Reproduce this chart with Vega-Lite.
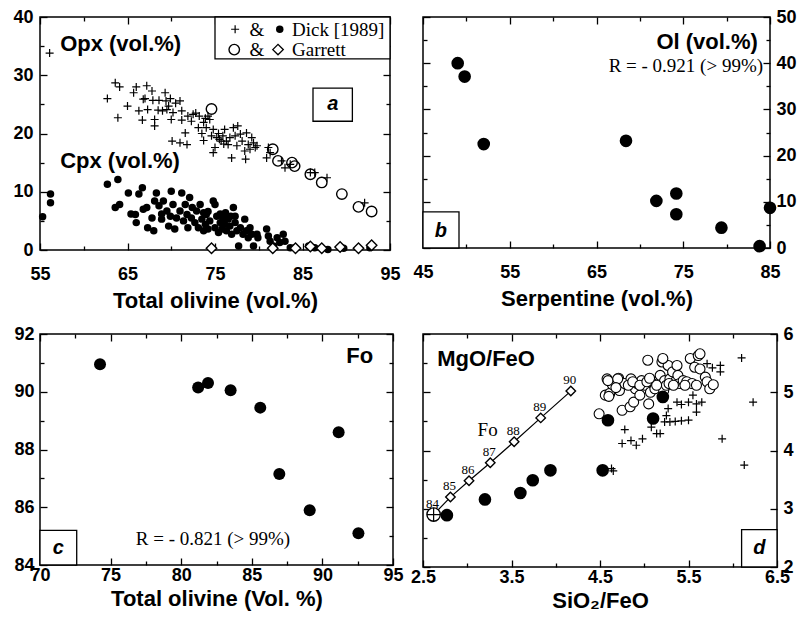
{
  "$schema": "https://vega.github.io/schema/vega-lite/v6.json",
  "background": "white",
  "padding": {"left": 12, "top": 7, "right": 0, "bottom": 0},
  "bounds": "flush",
  "columns": 2,
  "spacing": {"row": 84, "column": 30},
  "datasets": {
    "opxDick": [
      {"olivine": 56.1, "opx": 33.8}, {"olivine": 62.7, "opx": 26.0}, {"olivine": 63.6, "opx": 28.7}, {"olivine": 64.1, "opx": 28.0},
      {"olivine": 63.9, "opx": 22.7}, {"olivine": 65.0, "opx": 24.7}, {"olivine": 65.7, "opx": 27.0}, {"olivine": 66.0, "opx": 28.0},
      {"olivine": 66.3, "opx": 23.9}, {"olivine": 66.7, "opx": 22.3}, {"olivine": 66.8, "opx": 25.9}, {"olivine": 67.2, "opx": 28.2},
      {"olivine": 67.3, "opx": 24.1}, {"olivine": 67.8, "opx": 27.3}, {"olivine": 67.9, "opx": 25.7}, {"olivine": 68.1, "opx": 22.4},
      {"olivine": 68.1, "opx": 21.3}, {"olivine": 68.6, "opx": 25.7}, {"olivine": 69.0, "opx": 23.9}, {"olivine": 69.3, "opx": 27.0},
      {"olivine": 69.4, "opx": 25.6}, {"olivine": 69.5, "opx": 24.1}, {"olivine": 69.7, "opx": 24.7}, {"olivine": 69.9, "opx": 26.0},
      {"olivine": 70.0, "opx": 22.4}, {"olivine": 70.2, "opx": 23.6}, {"olivine": 70.1, "opx": 18.7}, {"olivine": 71.0, "opx": 18.4},
      {"olivine": 71.0, "opx": 25.6}, {"olivine": 71.2, "opx": 23.9}, {"olivine": 71.2, "opx": 22.3}, {"olivine": 71.6, "opx": 20.1},
      {"olivine": 71.8, "opx": 18.1}, {"olivine": 71.9, "opx": 23.0}, {"olivine": 72.3, "opx": 22.1}, {"olivine": 72.5, "opx": 23.3},
      {"olivine": 73.1, "opx": 21.0}, {"olivine": 73.2, "opx": 23.0}, {"olivine": 73.5, "opx": 20.0}, {"olivine": 73.7, "opx": 21.9},
      {"olivine": 73.7, "opx": 18.8}, {"olivine": 74.0, "opx": 21.0}, {"olivine": 74.2, "opx": 23.0}, {"olivine": 74.4, "opx": 22.4},
      {"olivine": 74.6, "opx": 19.6}, {"olivine": 74.8, "opx": 20.7}, {"olivine": 74.8, "opx": 16.7}, {"olivine": 75.0, "opx": 17.6},
      {"olivine": 75.2, "opx": 19.3}, {"olivine": 75.4, "opx": 20.0}, {"olivine": 75.7, "opx": 18.7}, {"olivine": 75.9, "opx": 19.6},
      {"olivine": 76.1, "opx": 20.7}, {"olivine": 76.3, "opx": 18.7}, {"olivine": 76.5, "opx": 18.1}, {"olivine": 76.7, "opx": 19.3},
      {"olivine": 76.9, "opx": 15.8}, {"olivine": 77.1, "opx": 21.0}, {"olivine": 77.3, "opx": 19.6}, {"olivine": 77.5, "opx": 17.9},
      {"olivine": 77.6, "opx": 21.3}, {"olivine": 77.9, "opx": 19.9}, {"olivine": 78.1, "opx": 18.7}, {"olivine": 78.4, "opx": 17.0},
      {"olivine": 78.5, "opx": 15.6}, {"olivine": 78.6, "opx": 20.1}, {"olivine": 78.8, "opx": 18.1}, {"olivine": 79.0, "opx": 17.3},
      {"olivine": 79.2, "opx": 19.3}, {"olivine": 79.4, "opx": 18.4}, {"olivine": 79.6, "opx": 17.6}, {"olivine": 79.8, "opx": 17.9},
      {"olivine": 80.9, "opx": 15.8}, {"olivine": 81.1, "opx": 17.6}, {"olivine": 81.3, "opx": 16.7}, {"olivine": 82.6, "opx": 15.3},
      {"olivine": 83.0, "opx": 14.1}, {"olivine": 83.6, "opx": 14.7}, {"olivine": 85.9, "opx": 13.3}, {"olivine": 86.4, "opx": 13.3},
      {"olivine": 87.8, "opx": 12.4}, {"olivine": 92.1, "opx": 8.1}, {"olivine": 70.5, "opx": 25.2}, {"olivine": 72.8, "opx": 23.5},
      {"olivine": 73.9, "opx": 22.6}, {"olivine": 75.5, "opx": 19.0}, {"olivine": 76.0, "opx": 18.2}, {"olivine": 68.5, "opx": 24.0},
      {"olivine": 67.0, "opx": 26.0}
    ],
    "cpxDick": [
      {"olivine": 55.3, "cpx": 5.7}, {"olivine": 56.2, "cpx": 9.6}, {"olivine": 56.2, "cpx": 8.1}, {"olivine": 62.7, "cpx": 11.3},
      {"olivine": 63.9, "cpx": 12.1}, {"olivine": 63.6, "cpx": 7.3}, {"olivine": 64.1, "cpx": 7.8}, {"olivine": 65.1, "cpx": 9.8},
      {"olivine": 65.9, "cpx": 6.1}, {"olivine": 66.0, "cpx": 4.7}, {"olivine": 66.3, "cpx": 9.6}, {"olivine": 66.7, "cpx": 10.7},
      {"olivine": 66.8, "cpx": 7.0}, {"olivine": 67.3, "cpx": 3.8}, {"olivine": 67.2, "cpx": 7.3}, {"olivine": 68.0, "cpx": 3.3},
      {"olivine": 67.8, "cpx": 5.5}, {"olivine": 68.1, "cpx": 8.4}, {"olivine": 68.3, "cpx": 9.8}, {"olivine": 68.6, "cpx": 7.6},
      {"olivine": 68.9, "cpx": 5.3}, {"olivine": 69.1, "cpx": 8.4}, {"olivine": 69.5, "cpx": 6.7}, {"olivine": 69.7, "cpx": 4.1},
      {"olivine": 69.9, "cpx": 5.8}, {"olivine": 70.0, "cpx": 10.1}, {"olivine": 70.2, "cpx": 7.8}, {"olivine": 70.4, "cpx": 3.6},
      {"olivine": 70.6, "cpx": 5.5}, {"olivine": 71.0, "cpx": 6.7}, {"olivine": 71.2, "cpx": 9.8}, {"olivine": 71.4, "cpx": 5.0},
      {"olivine": 71.6, "cpx": 7.8}, {"olivine": 71.8, "cpx": 6.1}, {"olivine": 71.9, "cpx": 3.8}, {"olivine": 72.1, "cpx": 9.0},
      {"olivine": 72.3, "cpx": 5.5}, {"olivine": 72.7, "cpx": 4.7}, {"olivine": 72.9, "cpx": 6.7}, {"olivine": 73.1, "cpx": 3.8},
      {"olivine": 73.3, "cpx": 7.8}, {"olivine": 73.5, "cpx": 5.3}, {"olivine": 73.7, "cpx": 3.3}, {"olivine": 73.9, "cpx": 4.4},
      {"olivine": 74.0, "cpx": 6.1}, {"olivine": 74.2, "cpx": 3.6}, {"olivine": 74.4, "cpx": 5.0}, {"olivine": 74.8, "cpx": 8.4},
      {"olivine": 75.0, "cpx": 7.8}, {"olivine": 75.0, "cpx": 3.8}, {"olivine": 75.2, "cpx": 5.8}, {"olivine": 75.4, "cpx": 3.0},
      {"olivine": 75.6, "cpx": 4.7}, {"olivine": 75.8, "cpx": 3.6}, {"olivine": 75.9, "cpx": 5.5}, {"olivine": 76.1, "cpx": 4.4},
      {"olivine": 76.3, "cpx": 3.3}, {"olivine": 76.5, "cpx": 5.3}, {"olivine": 76.7, "cpx": 4.1}, {"olivine": 76.9, "cpx": 2.7},
      {"olivine": 77.1, "cpx": 7.3}, {"olivine": 77.3, "cpx": 4.7}, {"olivine": 77.5, "cpx": 3.3}, {"olivine": 77.7, "cpx": 0.7},
      {"olivine": 77.9, "cpx": 3.8}, {"olivine": 78.2, "cpx": 2.7}, {"olivine": 78.4, "cpx": 5.3}, {"olivine": 78.6, "cpx": 3.3},
      {"olivine": 78.8, "cpx": 2.1}, {"olivine": 79.0, "cpx": 3.8}, {"olivine": 79.2, "cpx": 2.7}, {"olivine": 79.4, "cpx": 0.7},
      {"olivine": 79.8, "cpx": 2.7}, {"olivine": 79.9, "cpx": 2.1}, {"olivine": 80.9, "cpx": 3.6}, {"olivine": 81.1, "cpx": 2.4},
      {"olivine": 81.3, "cpx": 1.5}, {"olivine": 81.7, "cpx": 0.7}, {"olivine": 82.1, "cpx": 2.1}, {"olivine": 82.4, "cpx": 1.3},
      {"olivine": 82.8, "cpx": 2.7}, {"olivine": 83.0, "cpx": 1.5}, {"olivine": 83.6, "cpx": 0.4}, {"olivine": 84.1, "cpx": 0.4},
      {"olivine": 85.7, "cpx": 0.7}, {"olivine": 86.4, "cpx": 0.4}, {"olivine": 87.9, "cpx": 0.1}, {"olivine": 89.7, "cpx": 0.3},
      {"olivine": 92.7, "cpx": 0.4}, {"olivine": 73.7, "cpx": 6.4}, {"olivine": 74.2, "cpx": 6.6}, {"olivine": 75.6, "cpx": 6.2},
      {"olivine": 76.8, "cpx": 5.8}, {"olivine": 77.3, "cpx": 5.8}, {"olivine": 76.2, "cpx": 6.4}, {"olivine": 65.4, "cpx": 6.2},
      {"olivine": 68.9, "cpx": 6.2}, {"olivine": 72.4, "cpx": 7.3}
    ],
    "opxGarrett": [
      {"olivine": 74.6, "opx": 24.2}, {"olivine": 81.6, "opx": 17.3}, {"olivine": 82.2, "opx": 15.3}, {"olivine": 83.8, "opx": 15.0},
      {"olivine": 84.1, "opx": 14.4}, {"olivine": 85.9, "opx": 13.0}, {"olivine": 87.2, "opx": 11.6}, {"olivine": 89.5, "opx": 9.6},
      {"olivine": 91.4, "opx": 7.4}, {"olivine": 92.9, "opx": 6.6}
    ],
    "cpxGarrett": [
      {"olivine": 74.6, "cpx": 0.3}, {"olivine": 81.6, "cpx": 0.3}, {"olivine": 84.2, "cpx": 0.3}, {"olivine": 85.9, "cpx": 0.6},
      {"olivine": 87.2, "cpx": 0.3}, {"olivine": 89.3, "cpx": 0.5}, {"olivine": 91.4, "cpx": 0.3}, {"olivine": 92.9, "cpx": 0.8}
    ],
    "olSerp": [
      {"serpentine": 49.0, "ol": 40.0}, {"serpentine": 49.8, "ol": 37.1}, {"serpentine": 52.0, "ol": 22.5}, {"serpentine": 68.4, "ol": 23.2},
      {"serpentine": 71.9, "ol": 10.2}, {"serpentine": 74.2, "ol": 11.8}, {"serpentine": 74.2, "ol": 7.3}, {"serpentine": 79.4, "ol": 4.4},
      {"serpentine": 83.8, "ol": 0.4}, {"serpentine": 85.0, "ol": 8.7}
    ],
    "foOlivine": [
      {"olivine": 74.25, "fo": 90.95}, {"olivine": 81.2, "fo": 90.15}, {"olivine": 81.9, "fo": 90.3}, {"olivine": 83.5, "fo": 90.05},
      {"olivine": 85.6, "fo": 89.45}, {"olivine": 86.95, "fo": 87.15}, {"olivine": 91.15, "fo": 88.6}, {"olivine": 89.1, "fo": 85.9},
      {"olivine": 92.55, "fo": 85.1}
    ],
    "foLine": [
      {"sio2": 2.62, "mgo": 2.9, "fo": 84}, {"sio2": 2.81, "mgo": 3.2, "fo": 85}, {"sio2": 3.02, "mgo": 3.48, "fo": 86},
      {"sio2": 3.26, "mgo": 3.79, "fo": 87}, {"sio2": 3.53, "mgo": 4.15, "fo": 88}, {"sio2": 3.83, "mgo": 4.56, "fo": 89},
      {"sio2": 4.17, "mgo": 5.02, "fo": 90}
    ],
    "ratioDots": [
      {"sio2": 2.77, "mgo": 2.89}, {"sio2": 3.2, "mgo": 3.16}, {"sio2": 3.6, "mgo": 3.27}, {"sio2": 3.74, "mgo": 3.49},
      {"sio2": 3.94, "mgo": 3.66}, {"sio2": 4.53, "mgo": 3.66}, {"sio2": 4.59, "mgo": 4.52}, {"sio2": 5.1, "mgo": 4.55},
      {"sio2": 5.21, "mgo": 4.92}
    ],
    "ratioCircles": [
      {"sio2": 4.49, "mgo": 4.63}, {"sio2": 4.56, "mgo": 4.95}, {"sio2": 4.61, "mgo": 4.98}, {"sio2": 4.58, "mgo": 5.23},
      {"sio2": 4.64, "mgo": 5.13}, {"sio2": 4.71, "mgo": 5.24}, {"sio2": 4.72, "mgo": 5.03}, {"sio2": 4.75, "mgo": 4.69},
      {"sio2": 4.78, "mgo": 5.15}, {"sio2": 4.84, "mgo": 4.75}, {"sio2": 4.85, "mgo": 5.23}, {"sio2": 4.88, "mgo": 4.83},
      {"sio2": 4.9, "mgo": 5.06}, {"sio2": 4.92, "mgo": 5.15}, {"sio2": 4.95, "mgo": 4.95}, {"sio2": 4.97, "mgo": 5.2},
      {"sio2": 5.01, "mgo": 5.12}, {"sio2": 5.04, "mgo": 5.55}, {"sio2": 5.05, "mgo": 4.8}, {"sio2": 5.07, "mgo": 5.0},
      {"sio2": 5.1, "mgo": 5.18}, {"sio2": 5.12, "mgo": 5.06}, {"sio2": 5.16, "mgo": 5.15}, {"sio2": 5.18, "mgo": 5.29},
      {"sio2": 5.2, "mgo": 5.52}, {"sio2": 5.22, "mgo": 5.03}, {"sio2": 5.23, "mgo": 5.2}, {"sio2": 5.25, "mgo": 5.12},
      {"sio2": 5.27, "mgo": 5.46}, {"sio2": 5.29, "mgo": 5.23}, {"sio2": 5.32, "mgo": 5.35}, {"sio2": 5.35, "mgo": 5.18},
      {"sio2": 5.37, "mgo": 5.46}, {"sio2": 5.38, "mgo": 5.29}, {"sio2": 5.4, "mgo": 5.15}, {"sio2": 5.44, "mgo": 5.2},
      {"sio2": 5.48, "mgo": 5.18}, {"sio2": 5.52, "mgo": 5.58}, {"sio2": 5.54, "mgo": 5.15}, {"sio2": 5.57, "mgo": 5.43},
      {"sio2": 5.59, "mgo": 5.12}, {"sio2": 5.61, "mgo": 5.63}, {"sio2": 5.63, "mgo": 5.4}, {"sio2": 5.69, "mgo": 5.26},
      {"sio2": 5.71, "mgo": 5.18}, {"sio2": 5.74, "mgo": 5.06}, {"sio2": 5.78, "mgo": 5.13}, {"sio2": 4.59, "mgo": 5.2},
      {"sio2": 4.7, "mgo": 5.23}, {"sio2": 4.6, "mgo": 4.93}, {"sio2": 5.21, "mgo": 5.58}, {"sio2": 5.63, "mgo": 5.66},
      {"sio2": 4.82, "mgo": 5.12}, {"sio2": 4.87, "mgo": 5.18}, {"sio2": 4.95, "mgo": 5.12}, {"sio2": 5.03, "mgo": 5.18},
      {"sio2": 5.14, "mgo": 5.12}, {"sio2": 5.28, "mgo": 5.15}, {"sio2": 5.33, "mgo": 5.12}, {"sio2": 5.46, "mgo": 5.12},
      {"sio2": 4.68, "mgo": 5.08}, {"sio2": 5.06, "mgo": 5.24}
    ],
    "ratioPlus": [
      {"sio2": 4.78, "mgo": 4.36}, {"sio2": 4.75, "mgo": 4.12}, {"sio2": 4.85, "mgo": 4.17}, {"sio2": 4.91, "mgo": 4.09},
      {"sio2": 4.98, "mgo": 4.2}, {"sio2": 5.14, "mgo": 4.29}, {"sio2": 5.18, "mgo": 4.29}, {"sio2": 5.08, "mgo": 4.4},
      {"sio2": 5.23, "mgo": 4.49}, {"sio2": 5.25, "mgo": 4.6}, {"sio2": 5.29, "mgo": 4.49}, {"sio2": 5.35, "mgo": 4.5},
      {"sio2": 5.42, "mgo": 4.51}, {"sio2": 5.5, "mgo": 4.52}, {"sio2": 5.27, "mgo": 4.72}, {"sio2": 5.37, "mgo": 4.83},
      {"sio2": 5.42, "mgo": 4.79}, {"sio2": 5.5, "mgo": 4.83}, {"sio2": 5.59, "mgo": 4.8}, {"sio2": 5.59, "mgo": 4.66},
      {"sio2": 5.65, "mgo": 4.83}, {"sio2": 5.55, "mgo": 4.95}, {"sio2": 5.71, "mgo": 5.49}, {"sio2": 5.77, "mgo": 5.42},
      {"sio2": 5.86, "mgo": 5.46}, {"sio2": 5.86, "mgo": 5.35}, {"sio2": 6.1, "mgo": 5.59}, {"sio2": 6.23, "mgo": 4.83},
      {"sio2": 5.88, "mgo": 4.2}, {"sio2": 6.13, "mgo": 3.75}, {"sio2": 4.63, "mgo": 3.69}, {"sio2": 4.65, "mgo": 3.65}
    ]
  },
  "concat": [
    {
      "width": 350,
      "height": 233,
      "layer": [
        {
          "data": {"name": "cpxDick"},
          "mark": {"type": "point", "shape": "circle", "filled": true, "color": "black", "size": 56, "opacity": 1},
          "encoding": {
            "x": {"field": "olivine", "type": "quantitative", "scale": {"domain": [55, 95], "nice": false, "zero": false},
              "axis": {"orient": "bottom", "title": "Total olivine (vol.%)", "values": [55, 60, 65, 70, 75, 80, 85, 90, 95],
                "tickSize": {"condition": {"test": "datum.value % 10 === 5", "value": -7}, "value": -4},
                "labelExpr": "datum.value % 10 === 5 ? datum.label : ''", "labelPadding": 22, "titlePadding": 4}},
            "y": {"field": "cpx", "type": "quantitative", "scale": {"domain": [0, 40], "nice": false},
              "axis": {"orient": "left", "title": null, "values": [0, 5, 10, 15, 20, 25, 30, 35, 40],
                "tickSize": {"condition": {"test": "datum.value % 10 === 0", "value": -7}, "value": -4},
                "labelExpr": "datum.value % 10 === 0 ? datum.label : ''", "labelPadding": 14}}
          }
        },
        {
          "data": {"name": "opxDick"},
          "mark": {"type": "point", "shape": "M-1,0H1M0,-1V1", "filled": false, "color": "black", "strokeWidth": 1.2, "size": 64, "opacity": 1},
          "encoding": {
            "x": {"field": "olivine", "type": "quantitative",
              "axis": {"orient": "top", "title": null, "labels": false, "values": [55, 60, 65, 70, 75, 80, 85, 90, 95],
                "tickSize": {"condition": {"test": "datum.value % 10 === 5", "value": -7}, "value": -4}}},
            "y": {"field": "opx", "type": "quantitative",
              "axis": {"orient": "right", "title": null, "labels": false, "values": [0, 5, 10, 15, 20, 25, 30, 35, 40],
                "tickSize": {"condition": {"test": "datum.value % 10 === 0", "value": -7}, "value": -4}}}
          }
        },
        {
          "data": {"name": "opxGarrett"},
          "mark": {"type": "point", "shape": "circle", "filled": false, "color": "black", "strokeWidth": 1.4, "size": 110, "opacity": 1},
          "encoding": {
            "x": {"field": "olivine", "type": "quantitative", "axis": null},
            "y": {"field": "opx", "type": "quantitative", "axis": null}
          }
        },
        {
          "data": {"name": "cpxGarrett"},
          "mark": {"type": "point", "shape": "diamond", "filled": true, "fill": "white", "stroke": "black", "strokeWidth": 1.4, "size": 110, "opacity": 1},
          "encoding": {
            "x": {"field": "olivine", "type": "quantitative", "axis": null},
            "y": {"field": "cpx", "type": "quantitative", "axis": null}
          }
        },
        {
          "data": {"values": [{}]},
          "mark": {"type": "rect", "fill": "white", "stroke": "black", "strokeWidth": 1.3},
          "encoding": {
            "x": {"datum": 75, "type": "quantitative", "axis": null}, "x2": {"datum": 95},
            "y": {"datum": 32.8, "type": "quantitative", "axis": null}, "y2": {"datum": 40}
          }
        },
        {
          "data": {"values": [{}]},
          "mark": {"type": "point", "shape": "M-1,0H1M0,-1V1", "filled": false, "color": "black", "strokeWidth": 1.2, "size": 64, "opacity": 1},
          "encoding": {
            "x": {"datum": 77.3, "type": "quantitative", "axis": null},
            "y": {"datum": 37.9, "type": "quantitative", "axis": null}
          }
        },
        {
          "data": {"values": [{}]},
          "mark": {"type": "point", "shape": "circle", "filled": true, "color": "black", "size": 56, "opacity": 1},
          "encoding": {
            "x": {"datum": 82.4, "type": "quantitative", "axis": null},
            "y": {"datum": 37.9, "type": "quantitative", "axis": null}
          }
        },
        {
          "data": {"values": [{}]},
          "mark": {"type": "point", "shape": "circle", "filled": false, "color": "black", "strokeWidth": 1.4, "size": 110, "opacity": 1},
          "encoding": {
            "x": {"datum": 77.2, "type": "quantitative", "axis": null},
            "y": {"datum": 34.4, "type": "quantitative", "axis": null}
          }
        },
        {
          "data": {"values": [{}]},
          "mark": {"type": "point", "shape": "diamond", "filled": true, "fill": "white", "stroke": "black", "strokeWidth": 1.4, "size": 110, "opacity": 1},
          "encoding": {
            "x": {"datum": 82.2, "type": "quantitative", "axis": null},
            "y": {"datum": 34.4, "type": "quantitative", "axis": null}
          }
        },
        {
          "data": {"values": [{}]},
          "mark": {"type": "text", "align": "center", "baseline": "middle", "font": "Liberation Serif", "fontSize": 19, "fill": "black"},
          "encoding": {
            "x": {"datum": 79.8, "type": "quantitative", "axis": null},
            "y": {"datum": 37.8, "type": "quantitative", "axis": null},
            "text": {"value": "&"}
          }
        },
        {
          "data": {"values": [{}]},
          "mark": {"type": "text", "align": "center", "baseline": "middle", "font": "Liberation Serif", "fontSize": 19, "fill": "black"},
          "encoding": {
            "x": {"datum": 79.8, "type": "quantitative", "axis": null},
            "y": {"datum": 34.4, "type": "quantitative", "axis": null},
            "text": {"value": "&"}
          }
        },
        {
          "data": {"values": [{}]},
          "mark": {"type": "text", "align": "left", "baseline": "middle", "font": "Liberation Serif", "fontSize": 19, "fill": "black"},
          "encoding": {
            "x": {"datum": 83.8, "type": "quantitative", "axis": null},
            "y": {"datum": 37.8, "type": "quantitative", "axis": null},
            "text": {"value": "Dick [1989]"}
          }
        },
        {
          "data": {"values": [{}]},
          "mark": {"type": "text", "align": "left", "baseline": "middle", "font": "Liberation Serif", "fontSize": 19, "fill": "black"},
          "encoding": {
            "x": {"datum": 83.8, "type": "quantitative", "axis": null},
            "y": {"datum": 34.4, "type": "quantitative", "axis": null},
            "text": {"value": "Garrett"}
          }
        },
        {
          "data": {"values": [{}]},
          "mark": {"type": "rect", "fill": "white", "stroke": "black", "strokeWidth": 1.3},
          "encoding": {
            "x": {"datum": 86.2, "type": "quantitative", "axis": null}, "x2": {"datum": 90.7},
            "y": {"datum": 22.1, "type": "quantitative", "axis": null}, "y2": {"datum": 27.8}
          }
        },
        {
          "data": {"values": [{}]},
          "mark": {"type": "text", "fontStyle": "italic", "fontWeight": "bold", "fontSize": 20, "fill": "black"},
          "encoding": {
            "x": {"datum": 88.45, "type": "quantitative", "axis": null},
            "y": {"datum": 25.0, "type": "quantitative", "axis": null},
            "text": {"value": "a"}
          }
        },
        {
          "data": {"values": [{}]},
          "mark": {"type": "text", "align": "left", "fontWeight": "bold", "fontSize": 22, "fill": "black"},
          "encoding": {
            "x": {"datum": 57.3, "type": "quantitative", "axis": null},
            "y": {"datum": 35.4, "type": "quantitative", "axis": null},
            "text": {"value": "Opx (vol.%)"}
          }
        },
        {
          "data": {"values": [{}]},
          "mark": {"type": "text", "align": "left", "fontWeight": "bold", "fontSize": 22, "fill": "black"},
          "encoding": {
            "x": {"datum": 57.3, "type": "quantitative", "axis": null},
            "y": {"datum": 15.3, "type": "quantitative", "axis": null},
            "text": {"value": "Cpx (vol.%)"}
          }
        }
      ],
      "resolve": {"axis": {"x": "independent", "y": "independent"}}
    },
    {
      "width": 347,
      "height": 231,
      "layer": [
        {
          "data": {"name": "olSerp"},
          "mark": {"type": "point", "shape": "circle", "filled": true, "color": "black", "size": 160, "opacity": 1},
          "encoding": {
            "x": {"field": "serpentine", "type": "quantitative", "scale": {"domain": [45, 85], "nice": false, "zero": false},
              "axis": {"orient": "bottom", "title": "Serpentine (vol.%)", "values": [45, 50, 55, 60, 65, 70, 75, 80, 85],
                "tickSize": {"condition": {"test": "datum.value % 10 === 5", "value": -7}, "value": -4},
                "labelExpr": "datum.value % 10 === 5 ? datum.label : ''", "labelPadding": 22, "titlePadding": 4}},
            "y": {"field": "ol", "type": "quantitative", "scale": {"domain": [0, 50], "nice": false},
              "axis": {"orient": "right", "title": null, "values": [0, 5, 10, 15, 20, 25, 30, 35, 40, 45, 50],
                "tickSize": {"condition": {"test": "datum.value % 10 === 0", "value": -7}, "value": -4},
                "labelExpr": "datum.value % 10 === 0 ? datum.label : ''", "labelPadding": 13}}
          }
        },
        {
          "data": {"name": "olSerp"},
          "mark": {"type": "point", "opacity": 0},
          "encoding": {
            "x": {"field": "serpentine", "type": "quantitative",
              "axis": {"orient": "top", "title": null, "labels": false, "values": [45, 50, 55, 60, 65, 70, 75, 80, 85],
                "tickSize": {"condition": {"test": "datum.value % 10 === 5", "value": -7}, "value": -4}}},
            "y": {"field": "ol", "type": "quantitative",
              "axis": {"orient": "left", "title": null, "labels": false, "values": [0, 5, 10, 15, 20, 25, 30, 35, 40, 45, 50],
                "tickSize": {"condition": {"test": "datum.value % 10 === 0", "value": -7}, "value": -4}}}
          }
        },
        {
          "data": {"values": [{}]},
          "mark": {"type": "rect", "fill": "white", "stroke": "black", "strokeWidth": 1.3},
          "encoding": {
            "x": {"datum": 45, "type": "quantitative", "axis": null}, "x2": {"datum": 49.15},
            "y": {"datum": 0, "type": "quantitative", "axis": null}, "y2": {"datum": 7.8}
          }
        },
        {
          "data": {"values": [{}]},
          "mark": {"type": "text", "fontStyle": "italic", "fontWeight": "bold", "fontSize": 20, "fill": "black"},
          "encoding": {
            "x": {"datum": 47.07, "type": "quantitative", "axis": null},
            "y": {"datum": 3.7, "type": "quantitative", "axis": null},
            "text": {"value": "b"}
          }
        },
        {
          "data": {"values": [{}]},
          "mark": {"type": "text", "align": "right", "fontWeight": "bold", "fontSize": 22, "fill": "black"},
          "encoding": {
            "x": {"datum": 83.6, "type": "quantitative", "axis": null},
            "y": {"datum": 44.6, "type": "quantitative", "axis": null},
            "text": {"value": "Ol (vol.%)"}
          }
        },
        {
          "data": {"values": [{}]},
          "mark": {"type": "text", "align": "right", "font": "Liberation Serif", "fontSize": 19, "fill": "black"},
          "encoding": {
            "x": {"datum": 84.2, "type": "quantitative", "axis": null},
            "y": {"datum": 39.4, "type": "quantitative", "axis": null},
            "text": {"value": "R = - 0.921 (> 99%)"}
          }
        }
      ],
      "resolve": {"axis": {"x": "independent", "y": "independent"}}
    },
    {
      "width": 353,
      "height": 231,
      "layer": [
        {
          "data": {"name": "foOlivine"},
          "mark": {"type": "point", "shape": "circle", "filled": true, "color": "black", "size": 144, "opacity": 1},
          "encoding": {
            "x": {"field": "olivine", "type": "quantitative", "scale": {"domain": [70, 95], "nice": false, "zero": false},
              "axis": {"orient": "bottom", "title": "Total olivine (Vol. %)", "values": [70, 72.5, 75, 77.5, 80, 82.5, 85, 87.5, 90, 92.5, 95],
                "tickSize": {"condition": {"test": "datum.value % 5 === 0", "value": -7}, "value": -4},
                "labelExpr": "datum.value % 5 === 0 ? datum.label : ''", "labelPadding": 8, "titlePadding": 1}},
            "y": {"field": "fo", "type": "quantitative", "scale": {"domain": [84, 92], "nice": false, "zero": false},
              "axis": {"orient": "left", "title": null, "values": [84, 85, 86, 87, 88, 89, 90, 91, 92],
                "tickSize": {"condition": {"test": "datum.value % 2 === 0", "value": -7}, "value": -4},
                "labelExpr": "datum.value % 2 === 0 ? datum.label : ''", "labelPadding": 13}}
          }
        },
        {
          "data": {"name": "foOlivine"},
          "mark": {"type": "point", "opacity": 0},
          "encoding": {
            "x": {"field": "olivine", "type": "quantitative",
              "axis": {"orient": "top", "title": null, "labels": false, "values": [70, 72.5, 75, 77.5, 80, 82.5, 85, 87.5, 90, 92.5, 95],
                "tickSize": {"condition": {"test": "datum.value % 5 === 0", "value": -7}, "value": -4}}},
            "y": {"field": "fo", "type": "quantitative",
              "axis": {"orient": "right", "title": null, "labels": false, "values": [84, 85, 86, 87, 88, 89, 90, 91, 92],
                "tickSize": {"condition": {"test": "datum.value % 2 === 0", "value": -7}, "value": -4}}}
          }
        },
        {
          "data": {"values": [{}]},
          "mark": {"type": "rect", "fill": "white", "stroke": "black", "strokeWidth": 1.3},
          "encoding": {
            "x": {"datum": 70, "type": "quantitative", "axis": null}, "x2": {"datum": 72.6},
            "y": {"datum": 84, "type": "quantitative", "axis": null}, "y2": {"datum": 85.2}
          }
        },
        {
          "data": {"values": [{}]},
          "mark": {"type": "text", "fontStyle": "italic", "fontWeight": "bold", "fontSize": 20, "fill": "black"},
          "encoding": {
            "x": {"datum": 71.3, "type": "quantitative", "axis": null},
            "y": {"datum": 84.6, "type": "quantitative", "axis": null},
            "text": {"value": "c"}
          }
        },
        {
          "data": {"values": [{}]},
          "mark": {"type": "text", "align": "right", "fontWeight": "bold", "fontSize": 22, "fill": "black"},
          "encoding": {
            "x": {"datum": 93.6, "type": "quantitative", "axis": null},
            "y": {"datum": 91.23, "type": "quantitative", "axis": null},
            "text": {"value": "Fo"}
          }
        },
        {
          "data": {"values": [{}]},
          "mark": {"type": "text", "font": "Liberation Serif", "fontSize": 19, "fill": "black"},
          "encoding": {
            "x": {"datum": 82.25, "type": "quantitative", "axis": null},
            "y": {"datum": 84.9, "type": "quantitative", "axis": null},
            "text": {"value": "R = - 0.821 (> 99%)"}
          }
        }
      ],
      "resolve": {"axis": {"x": "independent", "y": "independent"}}
    },
    {
      "width": 354,
      "height": 233,
      "layer": [
        {
          "data": {"name": "foLine"},
          "mark": {"type": "line", "color": "black", "strokeWidth": 1.2},
          "encoding": {
            "x": {"field": "sio2", "type": "quantitative", "scale": {"domain": [2.5, 6.5], "nice": false, "zero": false},
              "axis": {"orient": "bottom", "title": "SiO₂/FeO", "values": [2.5, 3, 3.5, 4, 4.5, 5, 5.5, 6, 6.5],
                "tickSize": {"condition": {"test": "datum.value % 1 === 0.5", "value": -7}, "value": -4},
                "labelExpr": "datum.value % 1 === 0.5 ? datum.label : ''", "labelPadding": 8, "titlePadding": 1}},
            "y": {"field": "mgo", "type": "quantitative", "scale": {"domain": [2, 6], "nice": false, "zero": false},
              "axis": {"orient": "right", "title": null, "values": [2, 2.5, 3, 3.5, 4, 4.5, 5, 5.5, 6], "format": "d",
                "tickSize": {"condition": {"test": "datum.value % 1 === 0", "value": -7}, "value": -4},
                "labelExpr": "datum.value % 1 === 0 ? datum.label : ''", "labelPadding": 13}}
          }
        },
        {
          "data": {"name": "foLine"},
          "mark": {"type": "point", "opacity": 0},
          "encoding": {
            "x": {"field": "sio2", "type": "quantitative",
              "axis": {"orient": "top", "title": null, "labels": false, "values": [2.5, 3, 3.5, 4, 4.5, 5, 5.5, 6, 6.5],
                "tickSize": {"condition": {"test": "datum.value % 1 === 0.5", "value": -7}, "value": -4}}},
            "y": {"field": "mgo", "type": "quantitative",
              "axis": {"orient": "left", "title": null, "labels": false, "values": [2, 2.5, 3, 3.5, 4, 4.5, 5, 5.5, 6],
                "tickSize": {"condition": {"test": "datum.value % 1 === 0", "value": -7}, "value": -4}}}
          }
        },
        {
          "data": {"name": "ratioCircles"},
          "mark": {"type": "point", "shape": "circle", "filled": true, "fill": "white", "stroke": "black", "strokeWidth": 1.1, "size": 100, "opacity": 1},
          "encoding": {
            "x": {"field": "sio2", "type": "quantitative", "axis": null},
            "y": {"field": "mgo", "type": "quantitative", "axis": null}
          }
        },
        {
          "data": {"name": "ratioPlus"},
          "mark": {"type": "point", "shape": "M-1,0H1M0,-1V1", "filled": false, "color": "black", "strokeWidth": 1.2, "size": 64, "opacity": 1},
          "encoding": {
            "x": {"field": "sio2", "type": "quantitative", "axis": null},
            "y": {"field": "mgo", "type": "quantitative", "axis": null}
          }
        },
        {
          "data": {"name": "ratioDots"},
          "mark": {"type": "point", "shape": "circle", "filled": true, "color": "black", "size": 160, "opacity": 1},
          "encoding": {
            "x": {"field": "sio2", "type": "quantitative", "axis": null},
            "y": {"field": "mgo", "type": "quantitative", "axis": null}
          }
        },
        {
          "data": {"name": "foLine"},
          "transform": [{"filter": "datum.fo >= 85"}],
          "mark": {"type": "point", "shape": "diamond", "filled": true, "fill": "white", "stroke": "black", "strokeWidth": 1.4, "size": 90, "opacity": 1},
          "encoding": {
            "x": {"field": "sio2", "type": "quantitative", "axis": null},
            "y": {"field": "mgo", "type": "quantitative", "axis": null}
          }
        },
        {
          "data": {"name": "foLine"},
          "transform": [{"filter": "datum.fo === 84"}],
          "mark": {"type": "point", "shape": "circle", "filled": true, "fill": "white", "stroke": "black", "strokeWidth": 1.4, "size": 180, "opacity": 1},
          "encoding": {
            "x": {"field": "sio2", "type": "quantitative", "axis": null},
            "y": {"field": "mgo", "type": "quantitative", "axis": null}
          }
        },
        {
          "data": {"name": "foLine"},
          "transform": [{"filter": "datum.fo === 84"}],
          "mark": {"type": "point", "shape": "M-1,0H1M0,-1V1", "filled": false, "color": "black", "strokeWidth": 1.2, "size": 180, "opacity": 1},
          "encoding": {
            "x": {"field": "sio2", "type": "quantitative", "axis": null},
            "y": {"field": "mgo", "type": "quantitative", "axis": null}
          }
        },
        {
          "data": {"name": "foLine"},
          "mark": {"type": "text", "font": "Liberation Serif", "fontSize": 13, "fill": "black", "dx": -1, "dy": -11},
          "encoding": {
            "x": {"field": "sio2", "type": "quantitative", "axis": null},
            "y": {"field": "mgo", "type": "quantitative", "axis": null},
            "text": {"field": "fo", "type": "quantitative"},
            "color": {"value": "black"}
          }
        },
        {
          "data": {"values": [{}]},
          "mark": {"type": "text", "font": "Liberation Serif", "fontSize": 19, "fill": "black"},
          "encoding": {
            "x": {"datum": 3.23, "type": "quantitative", "axis": null},
            "y": {"datum": 4.35, "type": "quantitative", "axis": null},
            "text": {"value": "Fo"}
          }
        },
        {
          "data": {"values": [{}]},
          "mark": {"type": "text", "align": "left", "fontWeight": "bold", "fontSize": 22, "fill": "black"},
          "encoding": {
            "x": {"datum": 2.66, "type": "quantitative", "axis": null},
            "y": {"datum": 5.57, "type": "quantitative", "axis": null},
            "text": {"value": "MgO/FeO"}
          }
        },
        {
          "data": {"values": [{}]},
          "mark": {"type": "rect", "fill": "white", "stroke": "black", "strokeWidth": 1.3},
          "encoding": {
            "x": {"datum": 6.1, "type": "quantitative", "axis": null}, "x2": {"datum": 6.5},
            "y": {"datum": 2, "type": "quantitative", "axis": null}, "y2": {"datum": 2.64}
          }
        },
        {
          "data": {"values": [{}]},
          "mark": {"type": "text", "fontStyle": "italic", "fontWeight": "bold", "fontSize": 20, "fill": "black"},
          "encoding": {
            "x": {"datum": 6.3, "type": "quantitative", "axis": null},
            "y": {"datum": 2.32, "type": "quantitative", "axis": null},
            "text": {"value": "d"}
          }
        }
      ],
      "resolve": {"axis": {"x": "independent", "y": "independent"}}
    }
  ],
  "config": {
    "font": "Liberation Sans",
    "view": {"stroke": "black", "strokeWidth": 1.5},
    "axis": {
      "domain": false, "grid": false, "ticks": true, "tickColor": "black", "tickWidth": 1.3,
      "labelColor": "black", "labelFont": "Liberation Sans", "labelFontSize": 18, "labelFontWeight": "bold",
      "labelFlush": false, "labelOverlap": false, "labelBound": false,
      "titleColor": "black", "titleFont": "Liberation Sans", "titleFontSize": 22, "titleFontWeight": "bold"
    },
    "text": {"font": "Liberation Sans"}
  }
}
